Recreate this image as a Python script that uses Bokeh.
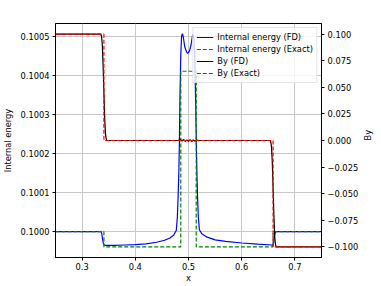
import math
from bokeh.plotting import figure
from bokeh.models import (Range1d, LinearAxis, FixedTicker, CustomJSTickFormatter,
                          Legend, LegendItem, Label)
from bokeh.embed import file_html
from bokeh.resources import INLINE

# ---------------- data ----------------
x_ie_fd = [0.25, 0.3355, 0.337, 0.3385, 0.340, 0.3415, 0.343, 0.36, 0.38, 0.40, 0.42,
           0.44, 0.455, 0.465, 0.472, 0.477, 0.479, 0.4805, 0.4818, 0.4828, 0.484,
           0.4855, 0.487, 0.4887, 0.4905, 0.493, 0.4965, 0.4988, 0.502, 0.505, 0.507,
           0.5085, 0.5105, 0.512, 0.5135, 0.5148, 0.5158, 0.517, 0.5185, 0.5205, 0.525,
           0.535, 0.55, 0.57, 0.60, 0.63, 0.657, 0.6585, 0.660, 0.6615, 0.663, 0.665, 0.75]
ie_fd = [0.1, 0.1, 0.099995, 0.09998, 0.09997, 0.099966, 0.099965, 0.099965, 0.099966,
         0.099967, 0.099969, 0.099973, 0.099978, 0.099984, 0.099991, 0.100003, 0.100036,
         0.10009, 0.10015, 0.10022, 0.10035, 0.10045, 0.10050, 0.100506, 0.100495,
         0.100472, 0.100459, 0.100456, 0.100462, 0.100479, 0.100497, 0.100504, 0.10049,
         0.10043, 0.10033, 0.10022, 0.10015, 0.10009, 0.100036, 0.100005, 0.099995,
         0.099986, 0.099979, 0.099975, 0.099971, 0.099968, 0.099966, 0.099964, 0.099972,
         0.099988, 0.099998, 0.1, 0.1]

x_ie_exact = [0.25, 0.341, 0.341, 0.4855, 0.4855, 0.5145, 0.5145, 0.659, 0.659, 0.75]
ie_exact = [0.1, 0.1, 0.099961, 0.099961, 0.10041, 0.10041, 0.099961, 0.099961, 0.1, 0.1]

x_by_fd = [0.25, 0.335, 0.3365, 0.338, 0.3395, 0.341, 0.3425, 0.344, 0.3455, 0.347, 0.40,
           0.48, 0.485, 0.488, 0.491, 0.494, 0.497, 0.500, 0.503, 0.506, 0.509, 0.512,
           0.515, 0.52, 0.60, 0.653, 0.6545, 0.656, 0.6575, 0.659, 0.6605, 0.662, 0.6635,
           0.665, 0.75]
by_fd = [0.1, 0.1, 0.098, 0.09, 0.07, 0.045, 0.02, 0.006, 0.001, 0.0, 0.0,
         0.0, 0.0008, -0.0006, 0.0009, -0.0007, 0.0006, -0.0008, 0.0007, -0.0009, 0.0006,
         -0.0005, 0.0003, 0.0, 0.0, 0.0, -0.001, -0.006, -0.02, -0.045, -0.07, -0.09,
         -0.098, -0.1, -0.1]

x_by_exact = [0.25, 0.341, 0.341, 0.659, 0.659, 0.75]
by_exact = [0.1, 0.1, 0.0, 0.0, -0.1, -0.1]

x_ticks = [0.3, 0.4, 0.5, 0.6, 0.7]
ie_ticks = [0.1000, 0.1001, 0.1002, 0.1003, 0.1004, 0.1005]
by_ticks = [-0.100, -0.075, -0.050, -0.025, 0.000, 0.025, 0.050, 0.075, 0.100]

x_lim = (0.25, 0.75)
ie_lim = (0.099934, 0.100532)
by_lim = (-0.11, 0.11)

x_label = "x"
ie_label = "Internal energy"
by_label = "By"
series_names = ["Internal energy (FD)", "Internal energy (Exact)", "By (FD)", "By (Exact)"]

# ---------------- figure ----------------
FONT = "DejaVu Sans"
FS = "8.3px"

p = figure(width=381, height=286, output_backend="svg", toolbar_location=None,
           x_range=Range1d(*x_lim), y_range=Range1d(*ie_lim),
           min_border_left=53, min_border_right=54, min_border_top=23,
           min_border_bottom=29)
p.extra_y_ranges = {"by": Range1d(*by_lim)}
p.background_fill_color = "white"
p.border_fill_color = "white"
p.outline_line_color = "black"
p.outline_line_width = 1
p.outline_line_alpha = 1.0


def style_axis(ax, decimals):
    ax.axis_line_color = "black"
    ax.major_tick_line_color = "black"
    ax.major_tick_out = 3
    ax.major_tick_in = 0
    ax.minor_tick_line_color = None
    ax.major_label_text_font = FONT
    ax.major_label_text_font_size = FS
    ax.major_label_text_color = "black"
    ax.axis_label_text_font = FONT
    ax.axis_label_text_font_size = FS
    ax.axis_label_text_font_style = "normal"
    ax.axis_label_text_color = "black"
    ax.major_label_standoff = 3
    ax.axis_label_standoff = 4
    ax.formatter = CustomJSTickFormatter(code="""
        const v = Math.abs(tick) < 1e-12 ? 0 : tick;
        return (v < 0 ? '\\u2212' : '') + Math.abs(v).toFixed(%d);
    """ % decimals)


xa = p.xaxis[0]
xa.ticker = FixedTicker(ticks=x_ticks)
xa.axis_label = x_label
style_axis(xa, 1)
xa.major_label_standoff = 2
xa.axis_label_standoff = 0

ya = p.yaxis[0]
ya.ticker = FixedTicker(ticks=ie_ticks)
ya.axis_label = ie_label
style_axis(ya, 4)

ra = LinearAxis(y_range_name="by", ticker=FixedTicker(ticks=by_ticks))
style_axis(ra, 3)
p.add_layout(ra, "right")

# right-axis title, reading bottom-to-top like the left one
try:
    ra.axis_label_orientation = math.pi / 2
    ra.axis_label = by_label
    ra.axis_label_standoff = 7
except Exception:
    p.add_layout(Label(x=x_lim[1], y=(ie_lim[0] + ie_lim[1]) / 2, x_offset=44,
                       text=by_label, angle=90, angle_units="deg", text_align="center",
                       text_baseline="middle", text_font=FONT, text_font_size=FS,
                       text_color="black"))

p.xgrid.ticker = FixedTicker(ticks=x_ticks)
p.ygrid.ticker = FixedTicker(ticks=ie_ticks)
for g in (p.xgrid[0], p.ygrid[0]):
    g.grid_line_color = "#c8c8c8"
    g.grid_line_width = 1

LW = 1.2
r1 = p.line(x_ie_fd, ie_fd, line_color="#0000ff", line_width=LW)
r2 = p.line(x_ie_exact, ie_exact, line_color="#008000", line_width=LW, line_dash="4 2")
r3 = p.line(x_by_fd, by_fd, line_color="black", line_width=LW, y_range_name="by")
r4 = p.line(x_by_exact, by_exact, line_color="#ff0000", line_width=LW, line_dash="4 2",
            y_range_name="by")

legend = Legend(items=[LegendItem(label=n, renderers=[r]) for n, r in
                       zip(series_names, [r1, r2, r3, r4])],
                location="top_right", margin=4, padding=3, spacing=0,
                label_height=12, glyph_height=12, glyph_width=17, label_standoff=4,
                label_text_font=FONT, label_text_font_size=FS, label_text_color="black",
                background_fill_color="white", background_fill_alpha=0.8,
                border_line_color="#cccccc", border_line_width=1)
p.add_layout(legend, "center")

open("out.html", "w").write(file_html(p, INLINE))
